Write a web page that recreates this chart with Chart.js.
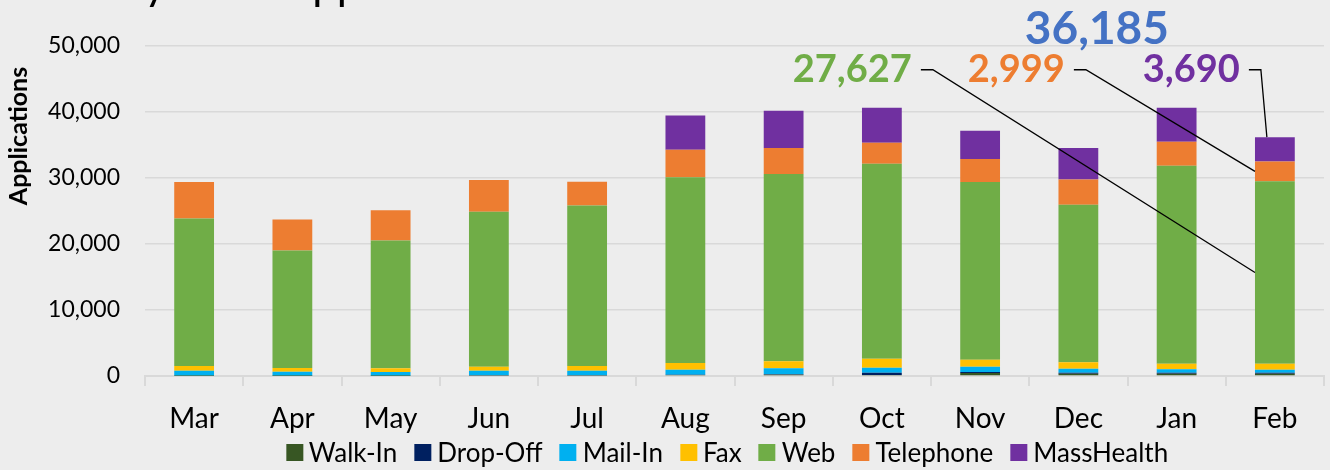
<!DOCTYPE html>
<html>
<head>
<meta charset="utf-8">
<script src="https://cdn.jsdelivr.net/npm/chart.js@4.4.1/dist/chart.umd.min.js"></script>
<style>
  body { margin: 0; background: #ededed; font-family: Lato, "Open Sans", sans-serif; }
  #wrap { position: relative; width: 1330px; height: 470px; overflow: hidden; }
  #legend {
    position: absolute; top: 436px; left: 727px; transform: translateX(-50%);
    display: flex; white-space: nowrap; font-size: 26px; color: #000;
  }
  .legend-item { display: flex; align-items: center; margin: 0 8.5px; }
  .legend-color { width: 17px; height: 17px; margin-right: 6px; }
</style>
</head>
<body>
<div id="wrap">
  <canvas id="appChart" width="1330" height="470"></canvas>
  <div id="legend"></div>
</div>
<script>
// Chart data
const months = ["Mar", "Apr", "May", "Jun", "Jul", "Aug", "Sep", "Oct", "Nov", "Dec", "Jan", "Feb"];
const walkIn = [30, 20, 20, 80, 80, 150, 200, 150, 450, 350, 350, 350];
const dropOff = [20, 20, 20, 30, 30, 50, 80, 350, 150, 150, 150, 150];
const mailIn = [750, 610, 560, 690, 690, 750, 880, 760, 800, 600, 510, 450];
const fax = [710, 560, 560, 600, 710, 1010, 1060, 1360, 1070, 970, 850, 919];
const web = [22360, 17820, 19380, 23470, 24320, 28150, 28390, 29550, 26940, 23870, 30010, 27627];
const telephone = [5540, 4690, 4580, 4840, 3620, 4180, 3930, 3180, 3470, 3820, 3630, 2999];
const massHealth = [null, null, null, null, null, 5180, 5640, 5280, 4280, 4780, 5130, 3690];

const seriesNames = ["Walk-In", "Drop-Off", "Mail-In", "Fax", "Web", "Telephone", "MassHealth"];
const seriesData = [walkIn, dropOff, mailIn, fax, web, telephone, massHealth];
const seriesColors = ["#375623", "#002060", "#00b0f0", "#ffc000", "#70ad47", "#ed7d31", "#7030a0"];

const yMax = 50000;
const yStep = 10000;

const FONT = "Lato, 'Open Sans', sans-serif";

// Callout labels for the last month (drawn with leader lines)
const calloutPlugin = {
  id: "callouts",
  afterDatasetsDraw(chart) {
    const ctx = chart.ctx;
    const i = months.length - 1;
    const y = chart.scales.y;
    const webBar = chart.getDatasetMeta(4).data[i];
    const telBar = chart.getDatasetMeta(5).data[i];
    const mhBar = chart.getDatasetMeta(6).data[i];
    const cx = webBar.x;
    const left = cx - webBar.width / 2;
    const total = seriesData.reduce((s, arr) => s + (arr[i] || 0), 0);
    const ly = y.getPixelForValue(46400);

    const items = [
      { text: web[i].toLocaleString("en-US"), color: "#70ad47", right: cx - 363, tx: left, ty: (webBar.y + webBar.base) / 2 },
      { text: telephone[i].toLocaleString("en-US"), color: "#ed7d31", right: cx - 210, tx: left, ty: (telBar.y + telBar.base) / 2 },
      { text: massHealth[i].toLocaleString("en-US"), color: "#7030a0", right: cx - 35, tx: cx - 8, ty: mhBar.y },
    ];

    ctx.save();
    ctx.font = "bold 38px " + FONT;
    ctx.textBaseline = "middle";
    ctx.textAlign = "right";
    items.forEach((it) => {
      ctx.fillStyle = it.color;
      ctx.fillText(it.text, it.right, ly);
      ctx.strokeStyle = "#000";
      ctx.lineWidth = 1.3;
      ctx.beginPath();
      ctx.moveTo(it.right + 9, ly);
      ctx.lineTo(it.right + 21, ly);
      ctx.lineTo(it.tx, it.ty);
      ctx.stroke();
    });

    ctx.font = "bold 46px " + FONT;
    ctx.textAlign = "center";
    ctx.fillStyle = "#4472c4";
    ctx.fillText(total.toLocaleString("en-US"), cx - 178, y.getPixelForValue(52500));

    // cut-off title at the very top and the y axis title
    ctx.font = "44px " + FONT;
    ctx.textAlign = "left";
    ctx.textBaseline = "alphabetic";
    ctx.fillStyle = "#000";
    ctx.fillText("Monthly Total Applications", 4, -1);

    ctx.translate(19, 136);
    ctx.rotate(-Math.PI / 2);
    ctx.font = "bold 25px " + FONT;
    ctx.textAlign = "center";
    ctx.textBaseline = "middle";
    ctx.fillText("Applications", 0, 0);
    ctx.restore();
  },
};

document.addEventListener("DOMContentLoaded", () => {
  const canvas = document.getElementById("appChart");

  window.appChart = new Chart(canvas, {
    type: "bar",
    data: {
      labels: months,
      datasets: seriesNames.map((name, k) => ({
        label: name,
        data: seriesData[k],
        backgroundColor: seriesColors[k],
        borderWidth: 0,
        barPercentage: 0.405,
        categoryPercentage: 1,
      })),
    },
    options: {
      responsive: false,
      animation: false,
      layout: { padding: { top: 46, right: 6, left: 0, bottom: 0 } },
      plugins: {
        legend: { display: false },
        tooltip: { enabled: false },
      },
      scales: {
        x: {
          stacked: true,
          grid: {
            offset: true,
            drawOnChartArea: false,
            drawTicks: true,
            tickLength: 10,
            color: "#d9d9d9",
            lineWidth: 2,
          },
          border: { color: "#d9d9d9", width: 2 },
          ticks: { color: "#000", font: { family: FONT, size: 28 }, padding: 16 },
          afterFit(scale) { scale.height = 94; },
        },
        y: {
          stacked: true,
          min: 0,
          max: yMax,
          grid: { color: "#d9d9d9", lineWidth: 1.5, drawTicks: false },
          border: { display: false },
          ticks: {
            stepSize: yStep,
            color: "#000",
            padding: 25,
            font: { family: FONT, size: 23 },
            callback: (v) => v.toLocaleString("en-US"),
          },
          afterFit(scale) { scale.width = 145; },
        },
      },
    },
    plugins: [calloutPlugin],
  });

  // Custom legend
  const legend = document.getElementById("legend");
  seriesNames.forEach((name, k) => {
    const item = document.createElement("div");
    item.className = "legend-item";
    item.innerHTML = `
      <div class="legend-color" style="background-color: ${seriesColors[k]}"></div>
      <div class="legend-label">${name}</div>
    `;
    legend.appendChild(item);
  });
});
</script>
</body>
</html>
